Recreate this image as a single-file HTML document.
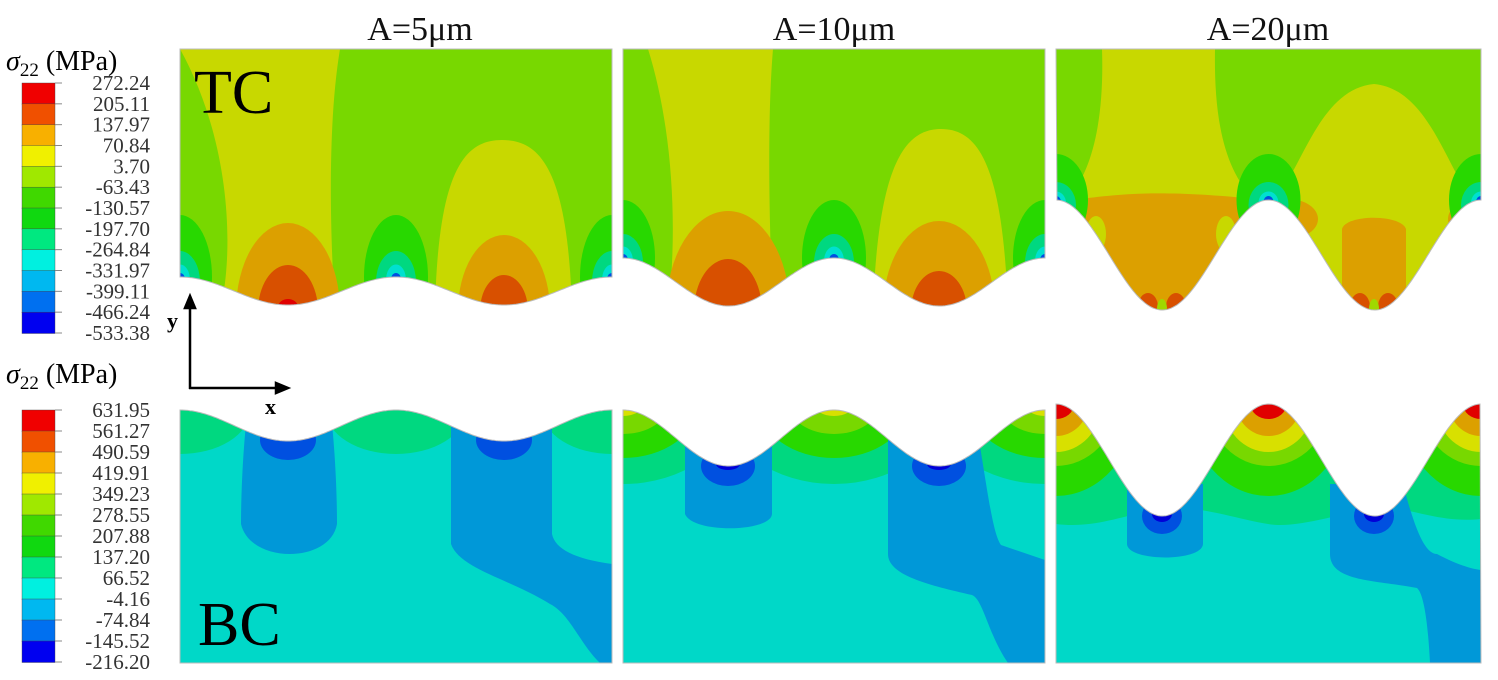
<!DOCTYPE html>
<html><head><meta charset="utf-8"><style>
html,body{margin:0;padding:0;background:#fff;}
svg{display:block;font-family:"Liberation Serif",serif;}
</style></head><body>
<svg id="fig" width="1498" height="680" viewBox="0 0 1498 680" xmlns="http://www.w3.org/2000/svg">
<defs id="defs"></defs>
<g id="panels"></g>
<g id="legends"></g>
<g font-size="34" text-anchor="middle" fill="#111">
<text x="420" y="40">A=5μm</text>
<text x="834" y="40">A=10μm</text>
<text x="1268" y="40">A=20μm</text>
</g>
<text x="194" y="113" font-size="62" fill="#000">TC</text>
<text x="198" y="645" font-size="62" fill="#000">BC</text>
<g stroke="#000" stroke-width="2.5" fill="none">
<line x1="190" y1="389" x2="190" y2="306"/><line x1="189" y1="388" x2="278" y2="388"/>
<path d="M185 308 L190 296 L195 308 Z" fill="#000"/><path d="M276 383 L288 388 L276 393 Z" fill="#000"/>
</g>
<text x="167" y="328" font-size="22" font-weight="bold">y</text>
<text x="265" y="414" font-size="22" font-weight="bold">x</text>
</svg>
<script>
const NS='http://www.w3.org/2000/svg';
const legend1Labels=['272.24','205.11','137.97','70.84','3.70','-63.43','-130.57','-197.70','-264.84','-331.97','-399.11','-466.24','-533.38'];
const legend2Labels=['631.95','561.27','490.59','419.91','349.23','278.55','207.88','137.20','66.52','-4.16','-74.84','-145.52','-216.20'];
const legendColors=['#f00000','#f05000','#f8b000','#f0f000','#a0e800','#40d800','#10d810','#00e880','#00f0e0','#00b8f0','#0070f0','#0000f0'];
const svg=document.getElementById('fig');
function mk(tag,attrs,parent){const e=document.createElementNS(NS,tag);for(const k in attrs)e.setAttribute(k,attrs[k]);parent.appendChild(e);return e;}
function legend(x,top,bottom,labels,titleY,name){
  const g=mk('g',{},document.getElementById('legends'));
  
  
  const t=mk('text',{x:6,y:titleY,'font-size':28,fill:'#000'},g);
  
  
  t.innerHTML='<tspan font-style="italic">σ</tspan><tspan font-size="19" dy="6">22</tspan><tspan dy="-6"> (MPa)</tspan>';
  const n=legendColors.length, h=(bottom-top)/n;
  legendColors.forEach((c,i)=>{const r=mk('rect',{x:x,y:top+i*h,width:33,height:h+0.5,fill:c,stroke:'#444','stroke-width':0.4},g);
    
    });
  labels.forEach((l,i)=>{const yy=top+i*h;
    mk('line',{x1:x+33,y1:yy,x2:x+40,y2:yy,stroke:'#888','stroke-width':1},g);
    const tx=mk('text',{x:150,y:yy+7,'font-size':21,'text-anchor':'end',fill:'#333'},g);
    
    
    tx.textContent=l;});
}
legend(22,83,333,legend1Labels,70,'legend-tc');
legend(22,410,662,legend2Labels,383,'legend-bc');

const defs=document.getElementById('defs'),P=document.getElementById('panels');
function wave(W,c,t,x){return (c+t)/2-(t-c)/2*Math.cos(2*Math.PI*x/(W/2));}
function panel(id,x0,y0,W,H,c,t,top,base,shapes){
  let d;
  if(top){d='M0 0 L'+W+' 0';for(let x=W;x>=0;x-=2)d+=' L'+x+' '+wave(W,c,t,x).toFixed(1);d+=' Z';}
  else{d='M0 '+H;for(let x=0;x<=W;x+=2)d+=' L'+x+' '+wave(W,c,t,x).toFixed(1);d+=' L'+W+' '+H+' Z';}
  const cp=mk('clipPath',{id:'cp'+id},defs);mk('path',{d:d},cp);
  const g=mk('g',{transform:'translate('+x0+','+y0+')'},P);
  
  
  const gi=mk('g',{'clip-path':'url(#cp'+id+')'},g);
  mk('rect',{x:0,y:0,width:W,height:H,fill:base},gi);
  shapes(gi,W,c,t);
  mk('path',{d:d,fill:'none',stroke:'#bbb','stroke-width':1},g);
}
const E=(g,cx,cy,rx,ry,f)=>mk('ellipse',{cx,cy,rx,ry,fill:f},g);
const Pa=(g,d,f)=>mk('path',{d,fill:f},g);
const YG='#c8d800',OR='#dca000',DO='#d85000',RD='#e00000',G2='#28d800',G3='#00d880',CY='#00e0d0',BL='#0098d8',DB='#0050e0',B0='#0000d8',LG='#78d800';
function tcCrests(g,W,c,ry){[0,W/2,W].forEach(x=>{E(g,x,c,32,ry,G2);E(g,x,c+5,20,ry*0.5,G3);E(g,x,c+3,10,ry*0.25,CY);E(g,x,c+2,5,6,DB);});}
panel('tc5',180,49,432,262,228,256,true,LG,(g,W,c,t)=>{
  Pa(g,'M0 0 L160 0 C150 60 148 150 155 262 L40 262 C55 200 50 90 0 0 Z',YG);
  Pa(g,'M255 262 C258 120 285 91 322 91 C360 91 388 120 392 262 Z',YG);
  E(g,108,262,52,88,OR);E(g,324,262,46,76,OR);
  E(g,108,262,30,46,DO);E(g,324,262,24,36,DO);E(g,108,258,10,8,RD);
  tcCrests(g,W,c,62);
});
panel('tc10',623,49,422,262,209,257,true,LG,(g,W,c,t)=>{
  Pa(g,'M25 0 L150 0 C145 60 145 150 150 262 L45 262 C55 180 50 80 25 0 Z',YG);
  Pa(g,'M250 262 C255 115 282 80 318 80 C355 80 380 115 385 262 Z',YG);
  E(g,105,262,62,100,OR);E(g,316,262,56,90,OR);
  E(g,105,262,34,52,DO);E(g,316,262,28,40,DO);
  tcCrests(g,W,c,58);
});
panel('tc20',1056,49,425,262,151,261,true,LG,(g,W,c,t)=>{
  Pa(g,'M46 0 L159 0 C158 60 165 120 200 152 L10 152 C40 120 48 60 46 0 Z',YG);
  Pa(g,'M10 152 C60 145 100 140 200 150 L210 262 L0 262 Z',OR);
  Pa(g,'M215 155 C245 125 262 40 318 35 C374 40 392 125 420 155 L425 262 L210 262 Z',YG);
  Pa(g,'M286 262 L286 180 C290 165 345 165 350 180 L350 262 Z',OR);
  E(g,232,170,30,20,OR);E(g,420,170,28,20,OR);
  E(g,40,185,10,18,YG);E(g,170,185,10,18,YG);
  [106,318].forEach(x=>{E(g,x-14,258,10,14,DO);E(g,x+14,258,10,14,DO);E(g,x,260,5,10,'#a0d800');});
  tcCrests(g,W,c,46);
});
panel('bc5',180,404,432,259,6,37,false,'#00d8c8',(g,W,c,t)=>{
  [0,W/2,W].forEach(x=>{E(g,x,c,70,44,G3);});
  Pa(g,'M66 20 L152 20 C156 60 157 100 157 120 C150 160 70 160 61 120 C61 100 62 60 66 20 Z',BL);
  Pa(g,'M271 20 L372 20 L372 130 C375 145 395 155 432 160 L432 259 L420 259 C400 240 390 210 370 200 C330 175 280 165 271 140 Z',BL);
  E(g,108,36,28,20,DB);E(g,324,36,28,20,DB);
});
panel('bc10',623,404,422,259,6,62,false,'#00d8c8',(g,W,c,t)=>{
  [0,W/2,W].forEach(x=>{E(g,x,0,110,80,G3);E(g,x,0,75,54,G2);E(g,x,0,45,30,LG);E(g,x,0,20,12,'#d8e000');});
  Pa(g,'M62 30 L149 30 L149 110 C148 128 70 130 62 110 Z',BL);
  Pa(g,'M265 30 L355 30 C365 90 370 130 378 141 L422 156 L422 259 L385 259 C365 230 360 195 349 191 C300 180 265 170 265 150 Z',BL);
  E(g,105,62,27,20,DB);E(g,316,62,27,20,DB);E(g,105,60,12,6,B0);E(g,316,60,12,6,B0);
});
panel('bc20',1056,404,425,259,0,112,false,'#00d8c8',(g,W,c,t)=>{
  Pa(g,'M0 0 L425 0 L425 115 C380 120 350 100 318 105 C280 110 240 125 212 120 C180 115 140 100 106 105 C70 110 40 125 0 120 Z',G3);
  [0,W/2,W].forEach(x=>{E(g,x,0,80,92,G2);E(g,x,0,60,62,LG);E(g,x,0,45,48,'#d8e000');E(g,x,0,32,32,OR);E(g,x,0,18,15,RD);});
  Pa(g,'M71 80 L147 80 L147 140 C146 158 72 158 71 140 Z',BL);
  Pa(g,'M274 80 L347 80 C360 130 370 150 381 150 C400 160 415 165 425 166 L425 259 L374 259 C372 220 368 190 361 184 C320 176 274 178 274 150 Z',BL);
  E(g,106,112,20,18,DB);E(g,318,112,20,18,DB);E(g,106,110,10,8,B0);E(g,318,110,10,8,B0);
});
</script>
</body></html>
